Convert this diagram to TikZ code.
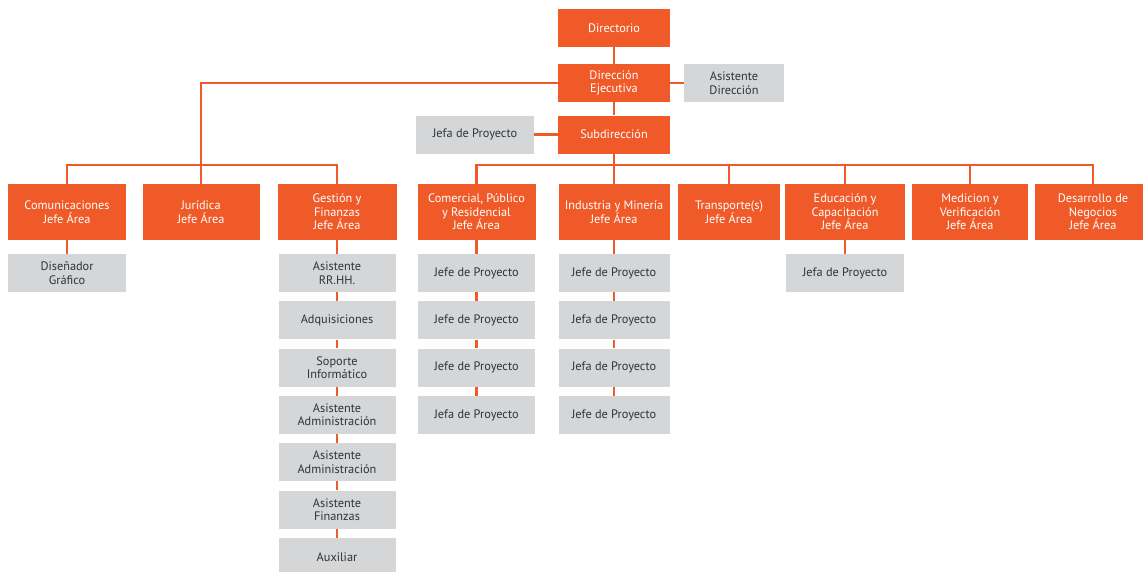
\documentclass[tikz,border=0pt]{standalone}
\usepackage{fontspec}
\setmainfont{PT Sans}
\definecolor{orgC}{HTML}{F05A28}
\definecolor{grayC}{HTML}{D5D6D8}
\definecolor{txtC}{HTML}{333333}
\begin{document}
\begin{tikzpicture}[x=1pt,y=-1pt,
  conn/.style={draw=orgC, line width=2.3pt},
  boxfont/.style={font=\fontsize{12.3}{13.4}\selectfont},
  obox/.style={boxfont, fill=orgC, text=white, minimum height=38pt, inner sep=0pt, align=center},
  abox/.style={obox, minimum height=56pt},
  gbox/.style={boxfont, fill=grayC, text=txtC, minimum height=38pt, inner sep=0pt, align=center},
]
\useasboundingbox (0,0) rectangle (1143,571);
\clip (0,0) rectangle (1143,571);
\coordinate (bar) at (0,165);

% top
\node[obox, minimum width=112pt] (dir) at (614,28) {Directorio};
\node[obox, minimum width=112pt] (dire) at (614,83) {Dirección\\Ejecutiva};
\node[obox, minimum width=112pt] (sub) at (614,134.5) {Subdirección};
\node[gbox, minimum width=100pt] (asd) at (734,83) {Asistente\\Dirección};
\node[gbox, minimum width=118pt] (jpl) at (475,134.5) {Jefa de Proyecto};

% areas
\node[abox, minimum width=118pt] (com) at (67,212) {Comunicaciones\\Jefe Área};
\node[abox, minimum width=117pt] (jur) at (201,212) {Jurídica\\Jefe Área};
\node[abox, minimum width=119pt] (ges) at (337,212) {Gestión y\\Finanzas\\Jefe Área};
\node[abox, minimum width=118pt] (comer) at (476.5,212) {Comercial, Público\\y Residencial\\Jefe Área};
\node[abox, minimum width=111pt] (ind) at (614,212) {Industria y Minería\\Jefe Área};
\node[abox, minimum width=102pt] (tra) at (729,212) {Transporte(s)\\Jefe Área};
\node[abox, minimum width=120pt] (edu) at (845,212) {Educación y\\Capacitación\\Jefe Área};
\node[abox, minimum width=116pt] (med) at (970,212) {Medicion y\\Verificación\\Jefe Área};
\node[abox, minimum width=116pt] (des) at (1093,212) {Desarrollo de\\Negocios\\Jefe Área};

% gray columns
\node[gbox, minimum width=118pt] (dis) at (67,273) {Diseñador\\Gráfico};

\node[gbox, minimum width=117pt] (g1) at (337,273) {Asistente\\RR.HH.};
\node[gbox, minimum width=117pt] (g2) at (337,320.3) {Adquisiciones};
\node[gbox, minimum width=117pt] (g3) at (337,367.6) {Soporte\\Informático};
\node[gbox, minimum width=117pt] (g4) at (337,414.9) {Asistente\\Administración};
\node[gbox, minimum width=117pt] (g5) at (337,462.2) {Asistente\\Administración};
\node[gbox, minimum width=117pt] (g6) at (337,509.5) {Asistente\\Finanzas};
\node[gbox, minimum width=117pt] (g7) at (337,556.8) {Auxiliar};

\node[gbox, minimum width=117pt] (c1) at (476.5,273) {Jefe de Proyecto};
\node[gbox, minimum width=117pt] (c2) at (476.5,320.3) {Jefe de Proyecto};
\node[gbox, minimum width=117pt] (c3) at (476.5,367.6) {Jefe de Proyecto};
\node[gbox, minimum width=117pt] (c4) at (476.5,414.9) {Jefa de Proyecto};

\node[gbox, minimum width=111pt] (i1) at (614,273) {Jefe de Proyecto};
\node[gbox, minimum width=111pt] (i2) at (614,320.3) {Jefa de Proyecto};
\node[gbox, minimum width=111pt] (i3) at (614,367.6) {Jefa de Proyecto};
\node[gbox, minimum width=111pt] (i4) at (614,414.9) {Jefe de Proyecto};

\node[gbox, minimum width=118pt] (e1) at (845,273) {Jefa de Proyecto};

% connectors
\draw[conn] (dir) -- (dire);
\draw[conn] (dire) -- (sub);
\draw[conn] (dire) -- (asd);
\draw[conn] (sub) -- (jpl);
\draw[conn] (dire.west) -| (jur.north);
\draw[conn] (com.north) -- (com.north |- bar) -- (ges.north |- bar) -- (ges.north);
\draw[conn] (sub.south) -- (sub.south |- bar);
\draw[conn] (comer.north) -- (comer.north |- bar) -- (des.north |- bar) -- (des.north);
\foreach \n in {ind,tra,edu,med} \draw[conn] (\n.north) -- (\n.north |- bar);
\draw[conn] (com) -- (dis);
\draw[conn] (ges) -- (g1);
\foreach \a/\b in {g1/g2,g2/g3,g3/g4,g4/g5,g5/g6,g6/g7,comer/c1,c1/c2,c2/c3,c3/c4,ind/i1,i1/i2,i2/i3,i3/i4,edu/e1}
  \draw[conn] (\a) -- (\b);
\end{tikzpicture}
\end{document}
